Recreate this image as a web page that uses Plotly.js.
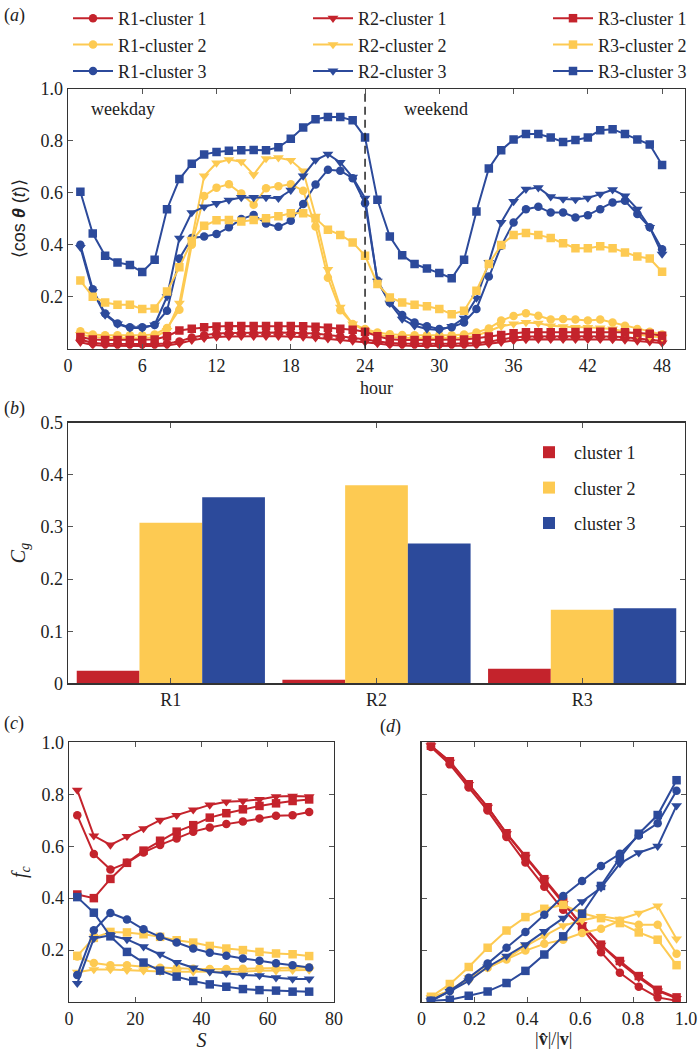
<!DOCTYPE html>
<html><head><meta charset="utf-8">
<script src="https://cdn.plot.ly/plotly-3.0.1.min.js"></script>
<style>html,body{margin:0;padding:0;background:#fff}#chart{width:699px;height:1051px}</style>
</head><body><div id="chart"></div>
<script>
// ---------- Panel (a) data ----------
const hours = [1,2,3,4,5,6,7,8,9,10,11,12,13,14,15,16,17,18,19,20,21,22,23,24,25,26,27,28,29,30,31,32,33,34,35,36,37,38,39,40,41,42,43,44,45,46,47,48];
const hourTicks = [0,6,12,18,24,30,36,42,48];
const boundaryHour = 24;

const r1c1 = [0.035,0.022,0.019,0.018,0.018,0.018,0.018,0.020,0.028,0.043,0.052,0.058,0.060,0.061,0.062,0.062,0.062,0.061,0.060,0.058,0.053,0.048,0.042,0.035,
              0.028,0.022,0.020,0.019,0.019,0.019,0.019,0.020,0.022,0.027,0.036,0.043,0.047,0.048,0.048,0.048,0.048,0.048,0.048,0.047,0.044,0.040,0.036,0.030];
const r2c1 = [0.025,0.014,0.011,0.010,0.010,0.010,0.010,0.012,0.020,0.032,0.040,0.045,0.047,0.048,0.048,0.048,0.048,0.047,0.045,0.042,0.038,0.034,0.030,0.026,
              0.020,0.014,0.011,0.010,0.010,0.010,0.010,0.011,0.013,0.018,0.025,0.031,0.035,0.036,0.036,0.036,0.036,0.036,0.036,0.035,0.033,0.030,0.027,0.022];
const r3c1 = [0.045,0.035,0.033,0.033,0.033,0.033,0.035,0.048,0.070,0.077,0.082,0.085,0.087,0.087,0.087,0.087,0.087,0.087,0.086,0.084,0.081,0.077,0.073,0.065,
              0.048,0.036,0.033,0.033,0.033,0.033,0.033,0.035,0.040,0.047,0.053,0.059,0.063,0.063,0.063,0.063,0.064,0.064,0.065,0.065,0.063,0.060,0.057,0.050];
const r1c2 = [0.067,0.055,0.052,0.052,0.052,0.052,0.055,0.080,0.150,0.400,0.588,0.620,0.633,0.597,0.554,0.618,0.625,0.633,0.608,0.470,0.273,0.148,0.095,0.076,
              0.062,0.056,0.053,0.052,0.052,0.052,0.052,0.055,0.062,0.078,0.108,0.126,0.136,0.127,0.112,0.114,0.112,0.108,0.112,0.101,0.088,0.076,0.065,0.055];
const r2c2 = [0.055,0.045,0.042,0.040,0.040,0.040,0.045,0.070,0.175,0.420,0.665,0.715,0.728,0.720,0.670,0.732,0.735,0.725,0.684,0.510,0.305,0.160,0.095,0.070,
              0.055,0.045,0.042,0.040,0.040,0.040,0.040,0.042,0.050,0.067,0.086,0.095,0.101,0.098,0.088,0.085,0.082,0.082,0.080,0.076,0.065,0.056,0.047,0.044];
const r3c2 = [0.262,0.200,0.178,0.169,0.169,0.153,0.155,0.220,0.313,0.415,0.473,0.494,0.495,0.490,0.495,0.502,0.510,0.521,0.521,0.502,0.458,0.438,0.409,0.358,
              0.249,0.197,0.178,0.169,0.163,0.153,0.133,0.146,0.223,0.326,0.399,0.438,0.445,0.438,0.426,0.406,0.387,0.387,0.394,0.387,0.370,0.355,0.347,0.296];
const r1c3 = [0.400,0.229,0.135,0.097,0.082,0.082,0.091,0.146,0.347,0.426,0.432,0.441,0.467,0.499,0.515,0.482,0.469,0.492,0.557,0.632,0.689,0.685,0.656,0.560,
              0.262,0.178,0.130,0.101,0.086,0.076,0.082,0.101,0.153,0.278,0.396,0.486,0.537,0.546,0.524,0.524,0.505,0.514,0.537,0.563,0.569,0.518,0.467,0.383];
const r2c3 = [0.390,0.220,0.130,0.095,0.080,0.080,0.092,0.200,0.426,0.524,0.546,0.559,0.572,0.582,0.582,0.582,0.579,0.610,0.665,0.726,0.749,0.717,0.660,0.580,
              0.260,0.175,0.114,0.088,0.076,0.072,0.086,0.118,0.195,0.332,0.486,0.567,0.614,0.620,0.585,0.576,0.574,0.580,0.595,0.612,0.588,0.537,0.467,0.364];
const r3c3 = [0.604,0.443,0.358,0.332,0.322,0.295,0.342,0.537,0.653,0.712,0.748,0.757,0.762,0.764,0.765,0.764,0.775,0.808,0.851,0.883,0.892,0.892,0.879,0.813,
              0.573,0.432,0.360,0.326,0.309,0.291,0.271,0.342,0.528,0.694,0.764,0.805,0.826,0.826,0.813,0.796,0.803,0.813,0.841,0.845,0.826,0.805,0.786,0.707];

// ---------- Panel (b) data ----------
const regions = ['R1','R2','R3'];
const cg1 = [0.024, 0.007, 0.028];
const cg2 = [0.308, 0.380, 0.141];
const cg3 = [0.357, 0.268, 0.144];

// ---------- Panel (c) data ----------
const sVals = [2.5,7.5,12.5,17.5,22.5,27.5,32.5,37.5,42.5,47.5,52.5,57.5,62.5,67.5,72.5];
const c_r1c1 = [0.719,0.570,0.510,0.536,0.576,0.605,0.630,0.656,0.672,0.685,0.695,0.707,0.717,0.719,0.732];
const c_r2c1 = [0.816,0.640,0.605,0.638,0.668,0.700,0.719,0.740,0.759,0.771,0.774,0.780,0.791,0.793,0.791];
const c_r3c1 = [0.414,0.400,0.474,0.536,0.583,0.621,0.656,0.681,0.710,0.727,0.742,0.755,0.765,0.774,0.780];
const c_r1c2 = [0.175,0.150,0.142,0.142,0.136,0.132,0.130,0.128,0.127,0.127,0.128,0.130,0.130,0.132,0.133];
const c_r2c2 = [0.115,0.125,0.125,0.122,0.120,0.118,0.117,0.117,0.117,0.117,0.118,0.120,0.120,0.122,0.123];
const c_r3c2 = [0.178,0.247,0.270,0.268,0.261,0.251,0.238,0.229,0.216,0.206,0.200,0.193,0.187,0.184,0.177];
const c_r1c3 = [0.104,0.276,0.343,0.318,0.280,0.251,0.229,0.206,0.190,0.178,0.168,0.159,0.149,0.142,0.133];
const c_r2c3 = [0.072,0.245,0.257,0.241,0.213,0.184,0.153,0.132,0.117,0.111,0.104,0.102,0.094,0.089,0.089];
const c_r3c3 = [0.404,0.344,0.253,0.193,0.152,0.121,0.098,0.081,0.068,0.059,0.050,0.046,0.044,0.040,0.040];

// ---------- Panel (d) data ----------
const vRatio = [0.0357,0.1071,0.1786,0.2500,0.3214,0.3929,0.4643,0.5357,0.6071,0.6786,0.7500,0.8214,0.8929,0.9643];
const d_r1c1 = [0.982,0.915,0.826,0.737,0.635,0.537,0.444,0.355,0.285,0.192,0.113,0.059,0.018,0.005];
const d_r2c1 = [0.987,0.924,0.838,0.750,0.648,0.558,0.470,0.380,0.298,0.219,0.151,0.094,0.043,0.014];
const d_r3c1 = [0.987,0.927,0.838,0.750,0.650,0.562,0.473,0.387,0.291,0.221,0.158,0.100,0.047,0.018];
const d_r1c2 = [0.018,0.043,0.088,0.132,0.164,0.198,0.224,0.240,0.266,0.282,0.313,0.298,0.298,0.186];
const d_r2c2 = [0.018,0.043,0.094,0.132,0.168,0.215,0.253,0.294,0.314,0.330,0.319,0.342,0.370,0.243];
const d_r3c2 = [0.020,0.069,0.135,0.209,0.275,0.327,0.359,0.374,0.342,0.323,0.304,0.268,0.240,0.142];
const d_r1c3 = [0.005,0.043,0.094,0.148,0.209,0.270,0.336,0.408,0.466,0.524,0.571,0.641,0.688,0.813];
const d_r2c3 = [0.005,0.041,0.081,0.135,0.177,0.221,0.272,0.323,0.387,0.440,0.533,0.575,0.600,0.756];
const d_r3c3 = [0.005,0.009,0.024,0.041,0.073,0.120,0.183,0.253,0.340,0.447,0.555,0.648,0.720,0.854];

// ---------- styles ----------
const RED = '#C4232C', YEL = '#FDCA52', BLU = '#2C4A9B';
const SYM = {R1:'circle', R2:'triangle-down', R3:'square'};
const SIZE = {R1:8.5, R2:9.5, R3:8.5};
const LEG = {R1:'legend', R2:'legend3', R3:'legend4'};

function line(x, y, reg, col, name, xa, ya, showleg) {
  return {x:x, y:y, type:'scatter', mode:'lines+markers', name:name,
    xaxis:xa, yaxis:ya, showlegend:showleg, legend:LEG[reg],
    line:{color:col, width:2},
    marker:{symbol:SYM[reg], size:SIZE[reg], color:col}};
}

const data = [
  line(hours, r1c1, 'R1', RED, 'R1-cluster 1', 'x', 'y', true),
  line(hours, r1c2, 'R1', YEL, 'R1-cluster 2', 'x', 'y', true),
  line(hours, r1c3, 'R1', BLU, 'R1-cluster 3', 'x', 'y', true),
  line(hours, r2c1, 'R2', RED, 'R2-cluster 1', 'x', 'y', true),
  line(hours, r2c2, 'R2', YEL, 'R2-cluster 2', 'x', 'y', true),
  line(hours, r2c3, 'R2', BLU, 'R2-cluster 3', 'x', 'y', true),
  line(hours, r3c1, 'R3', RED, 'R3-cluster 1', 'x', 'y', true),
  line(hours, r3c2, 'R3', YEL, 'R3-cluster 2', 'x', 'y', true),
  line(hours, r3c3, 'R3', BLU, 'R3-cluster 3', 'x', 'y', true),

  {x:regions, y:cg1, type:'bar', name:'cluster 1', marker:{color:RED}, xaxis:'x2', yaxis:'y2', legend:'legend2', legendgroup:'g1'},
  {x:regions, y:cg2, type:'bar', name:'cluster 2', marker:{color:YEL}, xaxis:'x2', yaxis:'y2', legend:'legend2', legendgroup:'g2'},
  {x:regions, y:cg3, type:'bar', name:'cluster 3', marker:{color:BLU}, xaxis:'x2', yaxis:'y2', legend:'legend2', legendgroup:'g3'},

  line(sVals, c_r1c1, 'R1', RED, 'R1-cluster 1', 'x3', 'y3', false),
  line(sVals, c_r2c1, 'R2', RED, 'R2-cluster 1', 'x3', 'y3', false),
  line(sVals, c_r3c1, 'R3', RED, 'R3-cluster 1', 'x3', 'y3', false),
  line(sVals, c_r1c2, 'R1', YEL, 'R1-cluster 2', 'x3', 'y3', false),
  line(sVals, c_r2c2, 'R2', YEL, 'R2-cluster 2', 'x3', 'y3', false),
  line(sVals, c_r3c2, 'R3', YEL, 'R3-cluster 2', 'x3', 'y3', false),
  line(sVals, c_r1c3, 'R1', BLU, 'R1-cluster 3', 'x3', 'y3', false),
  line(sVals, c_r2c3, 'R2', BLU, 'R2-cluster 3', 'x3', 'y3', false),
  line(sVals, c_r3c3, 'R3', BLU, 'R3-cluster 3', 'x3', 'y3', false),

  line(vRatio, d_r1c1, 'R1', RED, 'R1-cluster 1', 'x4', 'y4', false),
  line(vRatio, d_r2c1, 'R2', RED, 'R2-cluster 1', 'x4', 'y4', false),
  line(vRatio, d_r3c1, 'R3', RED, 'R3-cluster 1', 'x4', 'y4', false),
  line(vRatio, d_r1c2, 'R1', YEL, 'R1-cluster 2', 'x4', 'y4', false),
  line(vRatio, d_r2c2, 'R2', YEL, 'R2-cluster 2', 'x4', 'y4', false),
  line(vRatio, d_r3c2, 'R3', YEL, 'R3-cluster 2', 'x4', 'y4', false),
  line(vRatio, d_r1c3, 'R1', BLU, 'R1-cluster 3', 'x4', 'y4', false),
  line(vRatio, d_r2c3, 'R2', BLU, 'R2-cluster 3', 'x4', 'y4', false),
  line(vRatio, d_r3c3, 'R3', BLU, 'R3-cluster 3', 'x4', 'y4', false)
];

const W = 699, H = 1051;
const px = v => v / W;
const py = v => 1 - v / H;
const SERIF = 'Liberation Serif, Times New Roman, serif';

const axBase = {showline:true, linecolor:'#333', linewidth:1.4, mirror:'ticks',
  ticks:'inside', ticklen:5, tickwidth:1, tickcolor:'#555', showgrid:false, zeroline:false,
  tickfont:{family:SERIF, size:18, color:'#222'}, fixedrange:true};

function colLegend(x) {
  return {x:px(x), y:py(-1), xanchor:'left', yanchor:'top', itemwidth:40, traceorder:'normal',
    font:{family:SERIF, size:18, color:'#222'}, bgcolor:'rgba(0,0,0,0)'};
}

const layout = {
  width:W, height:H, margin:{l:0, r:0, t:0, b:0},
  paper_bgcolor:'#fff', plot_bgcolor:'#fff',
  font:{family:SERIF, size:18, color:'#222'},
  barmode:'group', bargap:0.085, bargroupgap:0,
  xaxis: Object.assign({}, axBase, {domain:[px(68), px(685)], anchor:'y', range:[0, 49.85],
    tickvals:hourTicks, title:{text:'hour', font:{family:SERIF, size:18}, standoff:6}}),
  yaxis: Object.assign({}, axBase, {domain:[py(348), py(88)], anchor:'x', range:[0, 1],
    tickvals:[0.2,0.4,0.6,0.8,1.0], ticktext:['0.2','0.4','0.6','0.8','1.0'],
    title:{text:'⟨cos <b><i>θ</i></b> (<i>t</i>)⟩', font:{family:'Liberation Sans, Arial, sans-serif', size:18}, standoff:10}}),
  xaxis2: Object.assign({}, axBase, {domain:[px(68), px(685)], anchor:'y2', range:[-0.5, 2.5], type:'category'}),
  yaxis2: Object.assign({}, axBase, {domain:[py(683), py(422)], anchor:'x2', range:[0, 0.5],
    tickvals:[0,0.1,0.2,0.3,0.4,0.5], ticktext:['0','0.1','0.2','0.3','0.4','0.5'],
    title:{text:'<i>C<sub>g</sub></i>', font:{family:SERIF, size:20}, standoff:9}}),
  xaxis3: Object.assign({}, axBase, {domain:[px(69), px(334)], anchor:'y3', range:[0, 80],
    tickvals:[0,20,40,60,80], title:{text:'<i>S</i>', font:{family:SERIF, size:20}, standoff:2}}),
  yaxis3: Object.assign({}, axBase, {domain:[py(1002), py(742)], anchor:'x3', range:[0, 1],
    tickvals:[0.2,0.4,0.6,0.8,1.0], ticktext:['0.2','0.4','0.6','0.8','1.0'],
    title:{text:'<i>f<sub>c</sub></i>', font:{family:SERIF, size:20}, standoff:9}}),
  xaxis4: Object.assign({}, axBase, {domain:[px(421.5), px(686)], anchor:'y4', range:[0, 1],
    tickvals:[0,0.2,0.4,0.6,0.8,1.0], ticktext:['0','0.2','0.4','0.6','0.8','1.0'],
    title:{text:'|<b>v̂</b>|/|<b>v</b>|', font:{family:SERIF, size:18}, standoff:2}}),
  yaxis4: Object.assign({}, axBase, {domain:[py(1002), py(742)], anchor:'x4', range:[0, 1],
    tickvals:[0.2,0.4,0.6,0.8], showticklabels:false}),
  legend: colLegend(68),
  legend3: colLegend(308),
  legend4: colLegend(548),
  legend2: {x:px(524), y:py(434), xanchor:'left', yanchor:'top', itemwidth:40,
    tracegroupgap:9, traceorder:'grouped', font:{family:SERIF, size:18, color:'#222'}, bgcolor:'rgba(0,0,0,0)'},
  shapes: [
    {type:'line', xref:'x', yref:'y domain', x0:boundaryHour, x1:boundaryHour, y0:0, y1:1,
     line:{color:'#222', width:1.5, dash:'8px,5px'}}
  ],
  annotations: [
    {text:'weekday', xref:'x', yref:'y', x:1.7, y:0.923, xanchor:'left', yanchor:'middle', showarrow:false, font:{family:SERIF, size:18}},
    {text:'weekend', xref:'x', yref:'y', x:27, y:0.923, xanchor:'left', yanchor:'middle', showarrow:false, font:{family:SERIF, size:18}},
    {text:'(<i>a</i>)', xref:'paper', yref:'paper', x:px(2), y:py(15), xanchor:'left', yanchor:'middle', showarrow:false, font:{family:SERIF, size:18}},
    {text:'(<i>b</i>)', xref:'paper', yref:'paper', x:px(2), y:py(408), xanchor:'left', yanchor:'middle', showarrow:false, font:{family:SERIF, size:18}},
    {text:'(<i>c</i>)', xref:'paper', yref:'paper', x:px(2), y:py(723), xanchor:'left', yanchor:'middle', showarrow:false, font:{family:SERIF, size:18}},
    {text:'(<i>d</i>)', xref:'paper', yref:'paper', x:px(378), y:py(726), xanchor:'left', yanchor:'middle', showarrow:false, font:{family:SERIF, size:18}}
  ]
};

Plotly.newPlot('chart', data, layout, {displayModeBar:false, staticPlot:true});
</script>
</body></html>
